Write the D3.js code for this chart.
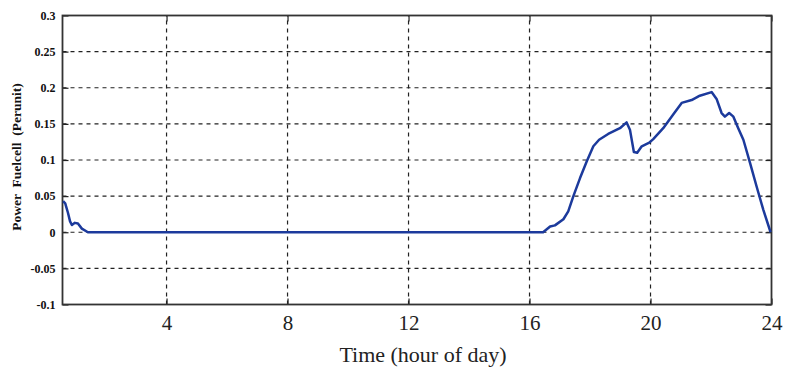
<!DOCTYPE html>
<html>
<head>
<meta charset="utf-8">
<script src="https://cdn.jsdelivr.net/npm/d3@7"></script>
<style>
  body { margin: 0; background: #fff; }
  svg { display: block; }
</style>
</head>
<body>
<div id="chart"></div>
<script>
// datos
const hours = [0.58, 0.65, 0.74, 0.81, 0.87, 0.97, 1.07, 1.2, 1.4, 16.45, 16.68, 16.84, 17.12, 17.28, 17.45, 17.67, 17.89, 18.11, 18.3, 18.6, 18.99, 19.21, 19.32, 19.45, 19.56, 19.71, 19.96, 20.09, 20.42, 20.75, 21.03, 21.36, 21.63, 22.02, 22.19, 22.35, 22.46, 22.6, 22.74, 22.9, 23.07, 23.29, 23.51, 23.73, 23.97];
const power = [0.043, 0.040, 0.027, 0.015, 0.010, 0.013, 0.012, 0.005, 0, 0, 0.008, 0.0095, 0.018, 0.029, 0.050, 0.075, 0.098, 0.119, 0.128, 0.136, 0.144, 0.152, 0.142, 0.111, 0.110, 0.119, 0.124, 0.129, 0.144, 0.163, 0.179, 0.183, 0.189, 0.194, 0.184, 0.165, 0.160, 0.165, 0.160, 0.144, 0.128, 0.096, 0.063, 0.031, 0];
const xTicks = [4, 8, 12, 16, 20, 24];
const yTicks = [-0.1, -0.05, 0, 0.05, 0.1, 0.15, 0.2, 0.25, 0.3];
const yLabels = ["-0.1", "-0.05", "0", "0.05", "0.1", "0.15", "0.2", "0.25", "0.3"];

const width = 788, height = 372;
const margin = { top: 15.5, right: 16.5, bottom: 67.5, left: 62.5 };

const svg = d3.select("#chart").append("svg")
  .attr("width", width)
  .attr("height", height);

const x = d3.scaleLinear().domain([0.56, 24]).range([margin.left, width - margin.right]);
const y = d3.scaleLinear().domain([-0.1, 0.3]).range([height - margin.bottom, margin.top]);

const data = hours.map((h, i) => ({ h: h, p: power[i] }));

// rejilla punteada
svg.append("g").selectAll("line")
  .data(yTicks.filter(t => t > -0.1 && t < 0.3))
  .enter().append("line")
  .attr("x1", x.range()[0]).attr("x2", x.range()[1])
  .attr("y1", d => y(d)).attr("y2", d => y(d))
  .attr("stroke", "#222").attr("stroke-width", 1.2)
  .attr("stroke-dasharray", "4,4");

svg.append("g").selectAll("line")
  .data(xTicks.filter(t => t < 24))
  .enter().append("line")
  .attr("x1", d => x(d)).attr("x2", d => x(d))
  .attr("y1", y.range()[0]).attr("y2", y.range()[1])
  .attr("stroke", "#222").attr("stroke-width", 1.2)
  .attr("stroke-dasharray", "4,4");

// ejes
const xAxis = svg.append("g")
  .attr("transform", `translate(0,${y(-0.1)})`)
  .call(d3.axisBottom(x).tickValues(xTicks).tickSizeInner(-6).tickSizeOuter(0).tickPadding(11));
xAxis.select(".domain").remove();
xAxis.selectAll("line").attr("stroke", "#222").attr("stroke-width", 1.2);
xAxis.selectAll("text")
  .style("font-family", "'Liberation Serif', 'Times New Roman', serif")
  .style("font-size", "21px").attr("fill", "#222");

const xAxisTop = svg.append("g")
  .attr("transform", `translate(0,${y(0.3)})`)
  .call(d3.axisTop(x).tickValues(xTicks).tickSizeInner(-6).tickSizeOuter(0).tickFormat(""));
xAxisTop.select(".domain").remove();
xAxisTop.selectAll("line").attr("stroke", "#222").attr("stroke-width", 1.2);

const yAxis = svg.append("g")
  .attr("transform", `translate(${x(0.56)},0)`)
  .call(d3.axisLeft(y).tickValues(yTicks).tickSizeInner(-6).tickSizeOuter(0).tickPadding(7)
    .tickFormat((d, i) => yLabels[i]));
yAxis.select(".domain").remove();
yAxis.selectAll("line").attr("stroke", "#222").attr("stroke-width", 1.2);
yAxis.selectAll("text")
  .style("font-family", "'Liberation Serif', 'Times New Roman', serif")
  .style("font-size", "12px").style("font-weight", "bold").attr("fill", "#111");

const yAxisRight = svg.append("g")
  .attr("transform", `translate(${x(24)},0)`)
  .call(d3.axisRight(y).tickValues(yTicks).tickSizeInner(-6).tickSizeOuter(0).tickFormat(""));
yAxisRight.select(".domain").remove();
yAxisRight.selectAll("line").attr("stroke", "#222").attr("stroke-width", 1.2);

// marco
svg.append("rect")
  .attr("x", x.range()[0]).attr("y", y.range()[1])
  .attr("width", x.range()[1] - x.range()[0])
  .attr("height", y.range()[0] - y.range()[1])
  .attr("fill", "none").attr("stroke", "#333").attr("stroke-width", 1.8);

// curva
const line = d3.line().x(d => x(d.h)).y(d => y(d.p));
svg.append("path")
  .datum(data)
  .attr("d", line)
  .attr("fill", "none")
  .attr("stroke", "#1c3a9c")
  .attr("stroke-width", 2.5)
  .attr("stroke-linejoin", "round");

// titulos
svg.append("text")
  .attr("x", 423)
  .attr("y", 362)
  .attr("text-anchor", "middle")
  .style("font-family", "'Liberation Serif', 'Times New Roman', serif")
  .style("font-size", "22px").attr("fill", "#222")
  .text("Time (hour of day)");

svg.append("text")
  .attr("transform", "translate(21,157) rotate(-90)")
  .attr("text-anchor", "middle")
  .style("white-space", "pre")
  .style("font-family", "'Liberation Serif', 'Times New Roman', serif")
  .style("font-size", "13.5px").style("font-weight", "bold").attr("fill", "#111")
  .text("Power  Fuelcell  (Perunit)");
</script>
</body>
</html>
